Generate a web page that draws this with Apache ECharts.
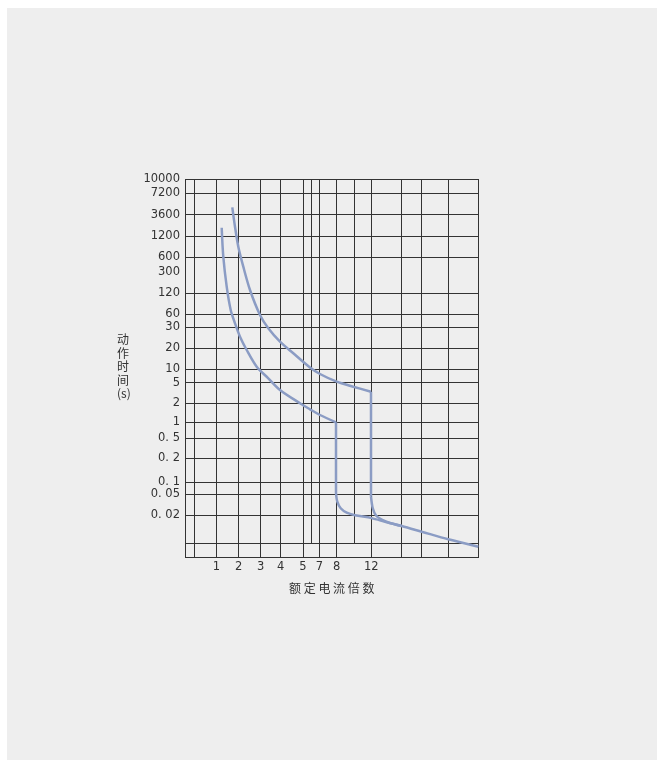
<!DOCTYPE html>
<html>
<head>
<meta charset="utf-8">
<script src="https://cdn.jsdelivr.net/npm/echarts@6/dist/echarts.min.js"></script>
<style>
  html, body { margin: 0; padding: 0; background: #ffffff; }
  #bg { position: absolute; left: 7px; top: 8px; width: 650px; height: 752px; background: #eeeeee; }
  #chart { position: absolute; left: 0; top: 0; width: 657px; height: 760px; }
</style>
</head>
<body>
<div id="bg"></div>
<div id="chart"></div>
<script>
// Axis units are schematic grid positions (non-uniform printed scale)
const xTickLabels = ['1', '2', '3', '4', '5', '7', '8', '12'];
const xTickPos = [31.3, 53.7, 75.7, 95.7, 118, 134.3, 151.7, 186.3];
const xGridPos = [0, 9.3, 31.3, 53.7, 75.7, 95.7, 118, 134.3, 151.7, 186.3, 216.7, 236.7, 263.3, 293.5];
const xPartialGridPos = [126, 169];

const yTickLabels = ['10000', '7200', '3600', '1200', '600', '300', '120', '60', '30', '20', '10', '5', '2', '1', '0. 5', '0. 2', '0. 1', '0. 05', '0. 02'];
const yTickPos = [378, 363.7, 342.3, 320.7, 299.7, 285.3, 263.7, 243, 230, 208.7, 187.7, 174.3, 153.7, 135, 119, 99, 75, 63, 41.7];
const yGridPos = [0, 13.7, 41.7, 63, 75, 99, 119, 135, 153.7, 174.3, 187.7, 208.7, 230, 243, 263.7, 299.7, 320.7, 342.3, 363.7, 378];
const yPartialBottom = 13.7;

// Curve 1 (lower, drops at 8x)
const curve1Upper = [[36.7, 329.3], [38.3, 300.3], [41.7, 270.3], [45.7, 247], [50, 233.7], [55, 220.3], [61.7, 207], [71.7, 190.3], [83.3, 178.7], [95, 167], [115, 153.7], [125, 147.7], [135, 142], [151, 134.7]];
const curve1Drop = [[151, 134.7], [151, 64]];
const curve1Tail = [[151, 64], [152.3, 55.3], [155.7, 48.7], [161.7, 44.3], [170, 41.8], [186.7, 38.9], [201.7, 34.7], [216.7, 31], [236.7, 25.3], [263.3, 17.7], [293.3, 10.3]];

// Curve 2 (upper, drops at 12x)
const curve2Upper = [[47.3, 349.7], [50, 330.3], [53.3, 310.3], [58.3, 290.3], [65, 267], [75, 242], [83.3, 228.7], [95, 215.3], [108.3, 203.7], [125, 189.5], [135, 183], [151.7, 175.3], [168.3, 170.3], [186, 165.3]];
const curve2Drop = [[186, 165.3], [186, 60.3]];
const curve2Tail = [[186, 60.3], [187.7, 49], [191, 41.5], [196.7, 37.5], [205, 34], [216.7, 31]];

const curveColor = '#8b9cc4';
const gridColor = '#333333';

function curveSeries(data, smooth) {
  return {
    type: 'line', data: data, smooth: smooth, showSymbol: false, symbol: 'none',
    lineStyle: { color: curveColor, width: 2.5 }, z: 5, silent: true, animation: false
  };
}

const markData = [];
xGridPos.forEach(v => markData.push({ xAxis: v }));
yGridPos.forEach(v => markData.push({ yAxis: v }));
xPartialGridPos.forEach(v => markData.push([{ coord: [v, yPartialBottom] }, { coord: [v, 378] }]));

const chart = echarts.init(document.getElementById('chart'), null, { renderer: 'canvas' });
chart.setOption({
  backgroundColor: 'transparent',
  animation: false,
  grid: { left: 185, top: 179, width: 294, height: 378, containLabel: false },
  xAxis: {
    type: 'value', min: 0, max: 294,
    axisLine: { show: false }, axisTick: { show: false }, splitLine: { show: false },
    axisLabel: {
      customValues: xTickPos,
      formatter: v => { const i = xTickPos.indexOf(v); return i >= 0 ? xTickLabels[i] : ''; },
      color: '#333', fontSize: 11.5, fontFamily: 'DejaVu Sans', margin: 4
    }
  },
  yAxis: {
    type: 'value', min: 0, max: 378,
    axisLine: { show: false }, axisTick: { show: false }, splitLine: { show: false },
    axisLabel: {
      customValues: yTickPos,
      formatter: v => { const i = yTickPos.indexOf(v); return i >= 0 ? yTickLabels[i] : ''; },
      color: '#333', fontSize: 11.5, fontFamily: 'DejaVu Sans', margin: 5
    }
  },
  graphic: [
    { type: 'text', left: 117, top: 333, style: { text: '动\n作\n时\n间\n(s)', fill: '#333', fontSize: 12, lineHeight: 13.5, fontFamily: 'Noto Sans CJK SC', align: 'center' } },
    { type: 'text', left: 289, top: 582, style: { text: '额 定 电 流 倍 数', fill: '#333', fontSize: 12, fontFamily: 'Noto Sans CJK SC' } }
  ],
  series: [
    {
      type: 'line', data: [[0, 0]], showSymbol: false, symbol: 'none', lineStyle: { opacity: 0 }, silent: true, z: 2,
      markLine: {
        silent: true, symbol: ['none', 'none'], label: { show: false }, animation: false,
        lineStyle: { color: gridColor, width: 1, type: 'solid' },
        emphasis: { disabled: true },
        data: markData
      }
    },
    curveSeries(curve1Upper, 0.3),
    curveSeries(curve1Drop, false),
    curveSeries(curve1Tail, 0.3),
    curveSeries(curve2Upper, 0.3),
    curveSeries(curve2Drop, false),
    curveSeries(curve2Tail, 0.3)
  ]
});
</script>
</body>
</html>
